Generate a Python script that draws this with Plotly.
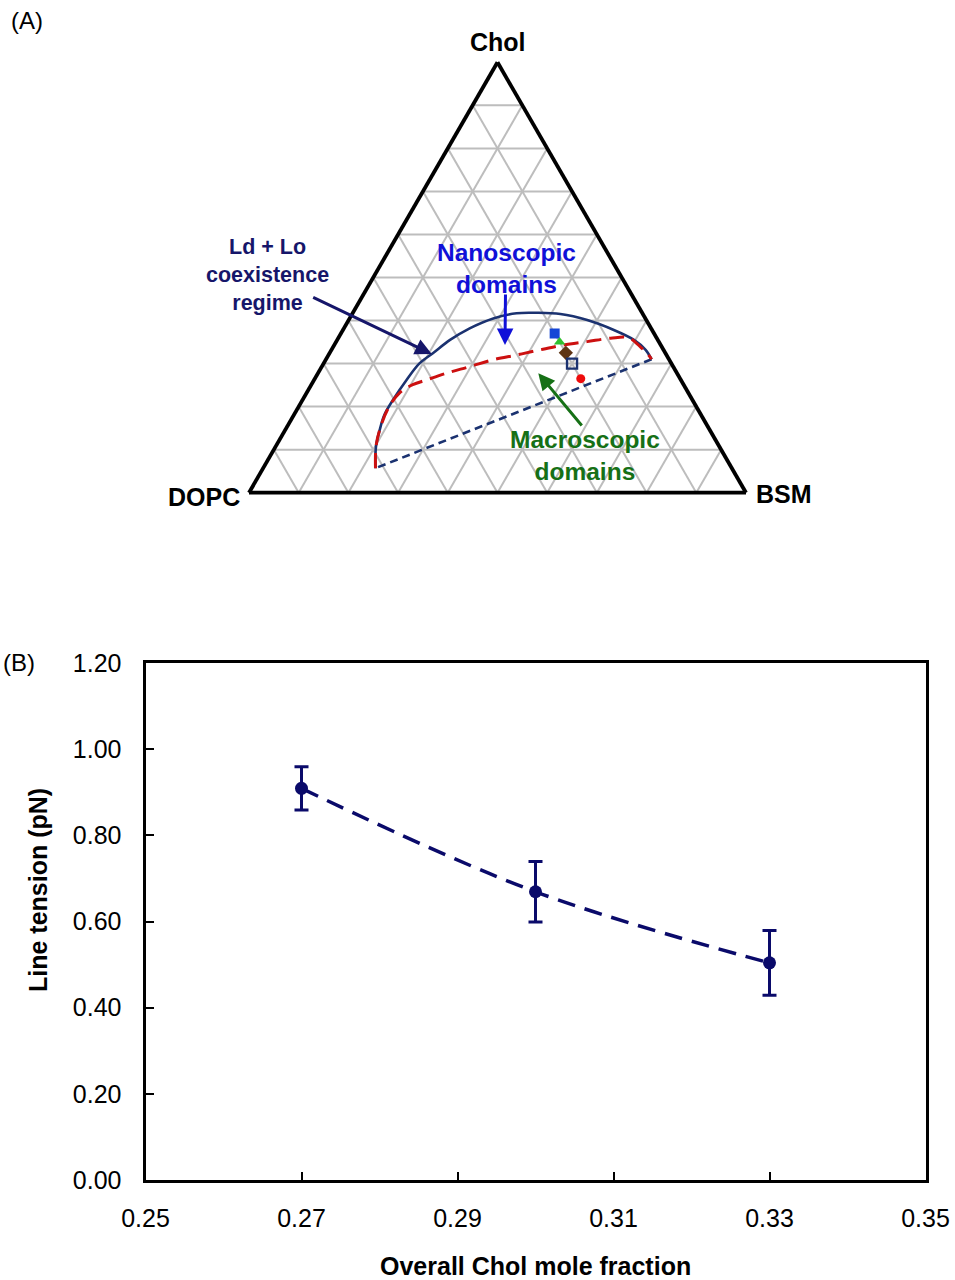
import plotly.graph_objects as go

# ---------------- Panel A : ternary phase diagram ----------------
# a = Chol (top), b = DOPC (bottom-left), c = BSM (bottom-right)
boundary_chol = [0.057, 0.107, 0.146, 0.181, 0.216, 0.262, 0.301, 0.324, 0.355, 0.382,
                 0.405, 0.417, 0.418, 0.415, 0.401, 0.378, 0.355, 0.332, 0.310]
boundary_bsm = [0.226, 0.202, 0.190, 0.182, 0.182, 0.186, 0.193, 0.208, 0.227, 0.253,
                0.289, 0.330, 0.370, 0.419, 0.480, 0.545, 0.597, 0.632, 0.655]

nanomacro_chol = [0.057, 0.107, 0.146, 0.197, 0.232, 0.251, 0.262, 0.278, 0.293, 0.309,
                  0.320, 0.332, 0.343, 0.351, 0.359, 0.360, 0.336, 0.320, 0.310]
nanomacro_bsm = [0.226, 0.202, 0.190, 0.182, 0.187, 0.204, 0.226, 0.259, 0.298, 0.337,
                 0.379, 0.420, 0.461, 0.505, 0.548, 0.584, 0.622, 0.644, 0.655]

tieline_chol = [0.310, 0.057]
tieline_bsm = [0.655, 0.226]

comp_chol = [0.370, 0.350, 0.325, 0.300, 0.265]
comp_dopc = [0.200, 0.200, 0.200, 0.200, 0.200]
comp_bsm = [0.430, 0.450, 0.475, 0.500, 0.535]
comp_symbols = ["square", "triangle-up", "diamond", "square-open", "circle"]
comp_colors = ["#1646d6", "#2fc02f", "#5e3414", "#1b3270", "#ee0c0c"]

corner_labels = ["Chol", "DOPC", "BSM"]

# ---------------- Panel B : line tension ----------------
chol_fraction = [0.27, 0.30, 0.33]
line_tension = [0.909, 0.669, 0.504]
tension_err = [0.050, 0.070, 0.075]
x_ticks = [0.25, 0.27, 0.29, 0.31, 0.33, 0.35]
y_ticks = [0.0, 0.2, 0.4, 0.6, 0.8, 1.0, 1.2]

W, H = 955, 1280
FONT = "Liberation Sans, Arial, sans-serif"
NAVY = "#1b3270"
DARKNAVY = "#0a0a6a"


def fx(p):
    return p / W


def fy(p):
    return 1 - p / H


def rest(a, c):
    return [1 - ai - ci for ai, ci in zip(a, c)]


fig = go.Figure()

fig.add_trace(go.Scatterternary(
    a=boundary_chol, b=rest(boundary_chol, boundary_bsm), c=boundary_bsm,
    mode="lines", line=dict(color=NAVY, width=2.6, shape="spline"),
    hoverinfo="skip", showlegend=False))
fig.add_trace(go.Scatterternary(
    a=tieline_chol, b=rest(tieline_chol, tieline_bsm), c=tieline_bsm,
    mode="lines", line=dict(color=NAVY, width=2.6, dash="8px,5px"),
    hoverinfo="skip", showlegend=False))
fig.add_trace(go.Scatterternary(
    a=nanomacro_chol, b=rest(nanomacro_chol, nanomacro_bsm), c=nanomacro_bsm,
    mode="lines", line=dict(color="#cc1010", width=3, dash="15px,8px", shape="spline"),
    hoverinfo="skip", showlegend=False))
fig.add_trace(go.Scatterternary(
    a=comp_chol, b=comp_dopc, c=comp_bsm, mode="markers", opacity=1,
    marker=dict(symbol=comp_symbols, color=comp_colors, size=[10, 10, 11, 10, 9], opacity=1,
                line=dict(color=comp_colors, width=[0, 0, 0, 2.4, 0])),
    hoverinfo="skip", showlegend=False))

tern_axis = dict(min=0, linecolor="black", linewidth=3.8, showgrid=True,
                 gridcolor="#bdbdbd", gridwidth=1.7, showticklabels=False,
                 ticks="", tickmode="linear", tick0=0, dtick=0.1, title=dict(text=""))

cx, cy = 497.5, 277.5
half_w = 248.5
half_h = 225
fig.update_layout(ternary=dict(
    sum=1, bgcolor="white",
    domain=dict(x=[fx(cx - half_w), fx(cx + half_w)], y=[fy(cy + half_h), fy(cy - half_h)]),
    aaxis=tern_axis, baxis=tern_axis, caxis=tern_axis))

# ---------------- Panel B traces ----------------
fig.add_trace(go.Scatter(
    x=chol_fraction, y=line_tension, mode="lines+markers",
    line=dict(color=DARKNAVY, width=3.5, dash="18px,10px", shape="spline"),
    marker=dict(color=DARKNAVY, size=13, symbol="circle"),
    error_y=dict(type="data", array=tension_err, color=DARKNAVY, thickness=3, width=7),
    hoverinfo="skip", showlegend=False))

fig.update_xaxes(domain=[fx(145.5), fx(925.5)], range=[x_ticks[0], x_ticks[-1]],
                 tickvals=x_ticks, ticktext=[f"{v:.2f}" for v in x_ticks],
                 ticks="inside", ticklen=8, tickwidth=2, tickcolor="black",
                 showline=True, linecolor="black", linewidth=3, mirror=True,
                 showgrid=False, zeroline=False, ticklabelstandoff=14, automargin=False,
                 tickfont=dict(family=FONT, size=25, color="black"))
fig.update_yaxes(domain=[fy(1180), fy(663)], range=[y_ticks[0], y_ticks[-1]],
                 tickvals=y_ticks, ticktext=[f"{v:.2f}" for v in y_ticks],
                 ticks="inside", ticklen=8, tickwidth=2, tickcolor="black",
                 showline=True, linecolor="black", linewidth=3, mirror=True,
                 showgrid=False, zeroline=False, ticklabelstandoff=16, automargin=False,
                 tickfont=dict(family=FONT, size=25, color="black"))

ann = []


def text(t, x, y, size, color="black", bold=True, xanchor="center", yanchor="middle", angle=0):
    ann.append(dict(text=(f"<b>{t}</b>" if bold else t), x=fx(x), y=fy(y), xref="paper", yref="paper",
                    showarrow=False, xanchor=xanchor, yanchor=yanchor, textangle=angle,
                    font=dict(family=FONT, size=size, color=color)))


def arrow(hx, hy, tx, ty, color):
    ann.append(dict(text="", x=fx(hx), y=fy(hy), xref="paper", yref="paper",
                    showarrow=True, ax=tx - hx, ay=ty - hy, axref="pixel", ayref="pixel",
                    arrowhead=2, arrowsize=1.1, arrowwidth=3, arrowcolor=color))


text("(A)", 9, 21, 24, bold=False, xanchor="left")
text("(B)", 1, 662, 24, bold=False, xanchor="left")
text(corner_labels[0], 498, 42, 25)
text(corner_labels[1], 242, 497, 25, xanchor="right")
text(corner_labels[2], 754, 494, 25, xanchor="left")
text("Ld + Lo<br>coexistence<br>regime", 267, 275, 21.5, color="#16166a")
text("Nanoscopic<br>domains", 506, 268, 24.5, color="#1010d8")
text("Macroscopic<br>domains", 585, 456, 24.5, color="#167016")
arrow(431.7, 354, 311.7, 296.7, "#16166a")
arrow(505, 345, 505.5, 293, "#1010d8")
arrow(538.3, 373.3, 583, 427, "#167016")

text("Line tension (pN)", 38, 890, 25, angle=-90)
text("Overall Chol mole fraction", 535.5, 1266, 25)

fig.update_layout(width=W, height=H, margin=dict(l=0, r=0, t=0, b=0, pad=0, autoexpand=False),
                  paper_bgcolor="white", plot_bgcolor="white",
                  annotations=ann, font=dict(family=FONT))

fig.write_html("out.html", config={"displayModeBar": False},
               post_script="document.body.style.margin='0';")
